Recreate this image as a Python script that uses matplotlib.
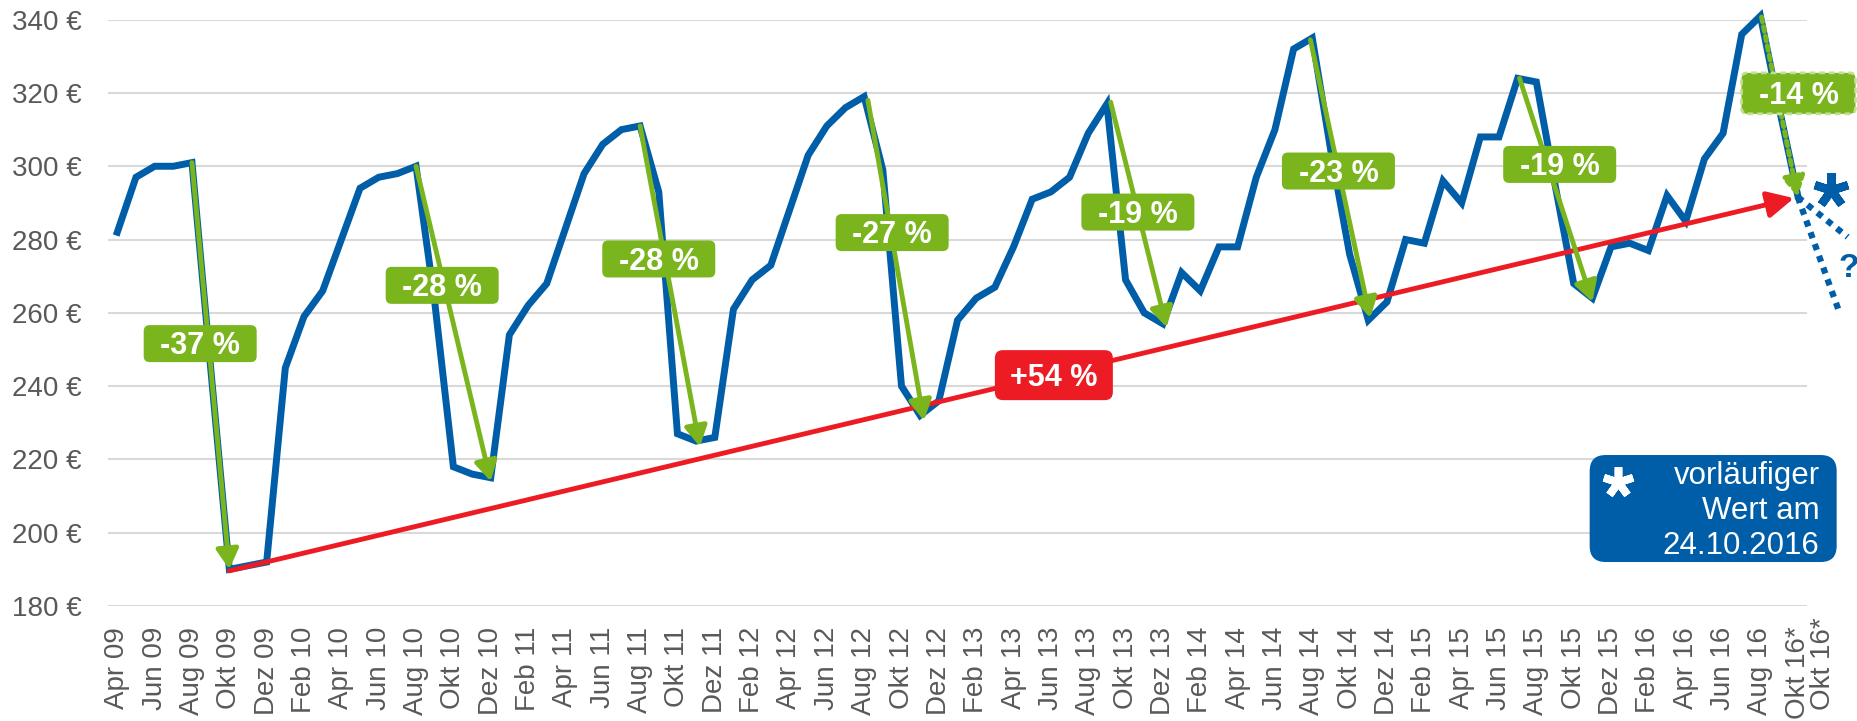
import matplotlib.pyplot as plt
from matplotlib.patches import FancyBboxPatch, FancyArrowPatch
from matplotlib.transforms import ScaledTranslation

plt.rcParams['font.family'] = ['Liberation Sans', 'DejaVu Sans']

BLUE = '#005ea8'
GREEN = '#7ab51d'
RED = '#ed1c24'
GREY = '#595959'
GRID = '#d9d9d9'

# monthly price, Apr 09 .. Okt 16 (Okt 16 = preliminary value)
prices = [282, 297, 300, 300, 301, 245, 190, 191, 192,
          245, 259, 266, 280, 294, 297, 298, 300, 263, 218, 216, 215,
          254, 262, 268, 283, 298, 306, 310, 311, 293, 227, 225, 226,
          261, 269, 273, 288, 303, 311, 316, 319, 299, 240, 232, 236,
          258, 264, 267, 278, 291, 293, 297, 309, 317, 269, 260, 257,
          271, 266, 278, 278, 297, 310, 332, 335, 304, 276, 258, 263,
          280, 279, 296, 290, 308, 308, 324, 323, 295, 268, 264, 278,
          279, 277, 292, 285, 302, 309, 336, 341, 316, 292]

tick_labels = ['Apr 09', 'Jun 09', 'Aug 09', 'Okt 09', 'Dez 09',
               'Feb 10', 'Apr 10', 'Jun 10', 'Aug 10', 'Okt 10', 'Dez 10',
               'Feb 11', 'Apr 11', 'Jun 11', 'Aug 11', 'Okt 11', 'Dez 11',
               'Feb 12', 'Apr 12', 'Jun 12', 'Aug 12', 'Okt 12', 'Dez 12',
               'Feb 13', 'Apr 13', 'Jun 13', 'Aug 13', 'Okt 13', 'Dez 13',
               'Feb 14', 'Apr 14', 'Jun 14', 'Aug 14', 'Okt 14', 'Dez 14',
               'Feb 15', 'Apr 15', 'Jun 15', 'Aug 15', 'Okt 15', 'Dez 15',
               'Feb 16', 'Apr 16', 'Jun 16', 'Aug 16', 'Okt 16*']
y_ticks = [180, 200, 220, 240, 260, 280, 300, 320, 340]

# seasonal drops: arrow from peak to trough, label text and label position
drop_x0 = [4, 16, 28, 40.2, 53.2, 63.9, 75.1, 88.06]
drop_y0 = [301, 300, 311, 318, 317.5, 334.5, 324, 340.7]
drop_x1 = [6, 20, 31.2, 43.2, 56.2, 67.1, 79, 90]
drop_y1 = [190, 214, 223.5, 230.6, 256, 258.6, 263, 291.6]
drop_labels = ['-37 %', '-28 %', '-28 %', '-27 %', '-19 %', '-23 %', '-19 %', '-14 %']
drop_lx = [4.44, 17.4, 29.0, 41.5, 54.66, 65.4, 77.25, 90.04]
drop_ly = [251.6, 267.5, 274.7, 281.9, 287.5, 298.7, 300.5, 319.9]

trend_label = '+54 %'

fig = plt.figure(figsize=(18.58, 7.21), dpi=100)
ax = fig.add_axes([0.0581, 0.1595, 0.9145, 0.8132])
months = list(range(len(prices)))


def box(x, y, w, h, color, r=0.06, z=6, **kw):
    # w, h in pixels, centred on data point (x, y)
    tr = fig.dpi_scale_trans + ScaledTranslation(x, y, ax.transData)
    kw.setdefault('ec', 'none')
    p = FancyBboxPatch((-w / 200, -h / 200), w / 100, h / 100,
                       boxstyle=f'round,pad=0,rounding_size={r}',
                       fc=color, transform=tr, clip_on=False, zorder=z, **kw)
    ax.add_patch(p)


def box_text(x, y, s, size=22):
    tr = ax.transData + ScaledTranslation(0, -0.108, fig.dpi_scale_trans)
    ax.text(x, y, s, transform=tr, ha='center', va='baseline', color='white',
            fontsize=size, fontweight='bold', zorder=7)


ax.plot(months, prices, color=BLUE, lw=5, solid_joinstyle='miter',
        clip_on=False, zorder=3)

# outlook after preliminary value
ax.plot([90, 92.67], [291.6, 280.7], ls=(0, (1, 1)), lw=4.5, color=BLUE,
        clip_on=False, dash_capstyle='butt', zorder=3)
ax.plot([90, 92.24], [291.6, 260], ls=(0, (1, 1)), lw=4.5, color=BLUE,
        clip_on=False, dash_capstyle='butt', zorder=3)
ax.plot([91.8], [293.5], marker=(5, 2, 0), ms=25, mew=6, color=BLUE,
        clip_on=False, zorder=3)
ax.text(92.75, 272, '?', color=BLUE, fontsize=24, fontweight='bold',
        ha='center', va='center', clip_on=False)

# long-term trend
ax.add_patch(FancyArrowPatch((6, 189.6), (89.8, 291.3),
                             arrowstyle='-|>,head_length=0.8,head_width=0.4',
                             mutation_scale=20, color=RED, lw=3.5,
                             shrinkA=0, shrinkB=0, zorder=4, clip_on=False))
box(50.16, 243, 118, 50, RED, r=0.08)
box_text(50.16, 243, trend_label)

for i in range(len(drop_labels)):
    dotted = i == len(drop_labels) - 1
    ax.add_patch(FancyArrowPatch((drop_x0[i], drop_y0[i]), (drop_x1[i], drop_y1[i]),
                                 arrowstyle='-|>,head_length=0.8,head_width=0.45',
                                 mutation_scale=15, color=GREEN, lw=3.5,
                                 ls=(0, (1, 1)) if dotted else '-',
                                 shrinkA=0, shrinkB=0, zorder=5, clip_on=False))
    if dotted:
        box(drop_lx[i], drop_ly[i], 114, 41, GREEN, ec='#c2df96',
            ls=(0, (2, 1.5)), lw=2)
    else:
        box(drop_lx[i], drop_ly[i], 113, 37, GREEN)
    box_text(drop_lx[i], drop_ly[i], drop_labels[i])

# footnote box
box(85.47, 206.6, 247, 107, BLUE, r=0.16)
ax.text(91.17, 206.0, 'vorläufiger\nWert am\n24.10.2016', color='white',
        fontsize=22.5, ha='right', va='center', multialignment='right',
        linespacing=1.22, zorder=7)
ax.plot([80.35], [213.8], marker=(5, 2, 0), ms=22, mew=5.5, color='white',
        clip_on=False, zorder=7)

ax.set_xticks(months[::2])
ax.set_xticklabels(tick_labels)
ax.set_yticks(y_ticks)
ax.set_yticklabels([f'{v} €' for v in y_ticks])
ax.tick_params(axis='x', length=0, pad=15, labelsize=20, labelcolor=GREY,
               labelrotation=90)
ax.tick_params(axis='y', length=0, pad=18.7, labelsize=20, labelcolor=GREY)
ax.annotate('Okt 16*', xy=(91.33, 180), xytext=(0, -8), textcoords='offset points',
            rotation=90, ha='center', va='top', fontsize=20, color=GREY,
            annotation_clip=False)

ax.grid(axis='y', color=GRID, lw=1.5, zorder=0)
ax.set_axisbelow(True)
for s in ax.spines.values():
    s.set_visible(False)
ax.set_xlim(-0.5, 90.5)
ax.set_ylim(180, 340)

fig.savefig('out.png', dpi=100)
